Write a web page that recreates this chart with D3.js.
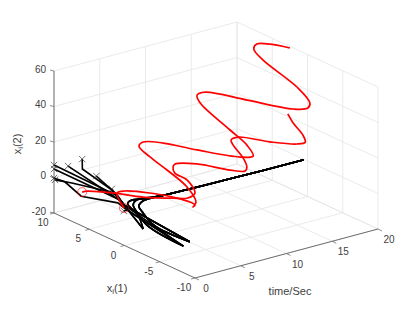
<!DOCTYPE html>
<html><head><meta charset="utf-8">
<script src="https://d3js.org/d3.v7.min.js"></script>
<style>html,body{margin:0;padding:0;background:#fff}svg{display:block}text{font-family:"Liberation Sans",Arial,sans-serif;fill:#404040}</style>
</head><body><div id="c"></div>
<script>
// axis ticks
const timeTicks = [0, 5, 10, 15, 20];
const x1Ticks = [10, 5, 0, -5, -10];
const x2Ticks = [-20, 0, 20, 40, 60];

// red trajectories
const redAT = [0,0.1,0.5,1,1.7,2.3,3,4,4.4,5.6,6.3,7.2,8.4,9.1,9.6,10.2,11.2,12.2,12.8,14.2,15.3,15.9,16.4,17.2,18];
const redAX = [6,5.4,2.3,-1.3,-4.7,-6,-6.1,-3.7,-1.4,0.38,1,-0.9,-4.1,-5.3,-4.9,-3.6,-0.86,0.72,0.5,-2.2,-4.6,-5,-4,-1.6,0.2];
const redAZ = [-0.9,0.6,4.7,8.3,12.9,14.6,16.6,18.1,17.4,15.8,15.4,17.7,18.4,19.1,20,21.7,22.8,21.3,22.5,22.8,24.5,25.4,27,28.2,28.9];

const redBT = [0,0.3,0.6,1,1.8,2.5,2.9,3.3,4.1,4.7,5.3,6,6.5,7.15,7.87,8.85,9.6,10.2,10.8,11.9,12.4,12.9,14.1,15.2,15.8,16.1,16.8,18,18.6,19,19.4,20];
const redBX = [0.07,1.45,0.7,-2.3,-5.1,-6.75,-5.96,-5.86,-3.55,0.07,3.26,5.73,5.8,3.8,-0.07,-4.9,-5.8,-4.1,-0.95,4.7,5.8,5.3,0.9,-4.2,-5.5,-5.4,-2.7,3.7,5.8,5.9,4.5,2.5];
const redBZ = [1,6.5,8.6,12.4,13.6,11.8,8.6,10.6,13.8,15.9,16.6,17.2,18.7,20.9,23.1,26.6,27.8,30.1,31.9,35.2,37,38.9,40.8,43.6,45.7,48,50.9,52.8,54.4,56.5,58.4,59.1];

// black trajectories: starting sections
const headsT = [[0,0.5,0.9],[0,0.5,0.9],[0,0.1,0.2,0.5,0.9],[0,0.1,0.5,0.9],[0,0.5,0.9],[0,0.02,0.4,0.9],[0,0.4,0.9],[0,0.9],[0,0.9]];
const headsX = [[10,1.6,1.2],[10,1.6,1.2],[10,8.6,6.4,1.6,0.8],[9.86,7.6,2,1.2],[8,1.6,1.2],[6,6,2.3,1.2],[4,2.3,1.2],[1.8,1.2],[0.1,0.8]];
const headsZ = [[7,4.3,-0.7],[4.8,2.6,-0.7],[-0.3,0,-4.2,0.4,-2.7],[-1.1,1.2,5.2,-0.7],[10.1,2.6,-0.7],[17.7,12.1,6.5,-0.7],[11.8,6.5,-0.7],[8.6,-0.7],[-0.7,-2.7]];
const headTail = [0,1,2,1,1,2,0,1,2];

// black trajectories: excursion and return sections
const tailsT = [[1.5,2,2.5,2.8,3.2,4.4,12,19.6],[1.5,2,2.5,2.8,3.1,3.6,4.4,12,19.6],[1.5,2,2.5,2.8,3.1,3.6,4.4,12,19.6]];
const tailsX = [[-0.7,0.7,2.8,2.9,2,0,-0.1,0],[-7.3,-1.7,0.6,1.6,1.4,0.8,0,-0.1,0],[-6.4,-0.7,1.5,2.4,2.3,1.3,0,-0.1,0]];
const tailsZ = [[-11.5,-6.8,-5.1,-4.1,-1.8,2.4,1.9,1.2],[-6.6,-8.6,-6.3,-4.5,-1.7,0.4,2.4,1.9,1.2],[-10.7,-10.4,-7.3,-5.5,-2.8,-0.7,2.4,1.9,1.2]];

const W = 417, H = 313;
const svg = d3.select("#c").append("svg").attr("width", W).attr("height", H);

// oblique projection read from the box corners
const originX = 195, originY = 278;
const tPx = d3.scaleLinear([0, 20], [0, 183]);
const tPy = d3.scaleLinear([0, 20], [0, -49]);
const xPx = d3.scaleLinear([-10, 10], [0, -141]);
const xPy = d3.scaleLinear([-10, 10], [0, -65]);
const zPy = d3.scaleLinear([-20, 60], [0, -142]);
const P = (t, x, z) => [originX + tPx(t) + xPx(x), originY + tPy(t) + xPy(x) + zPy(z)];

const gridC = "#e4e4e4", axisC = "#6e6e6e";
const seg = (g, a, b, c, w) => g.append("line").attr("x1", a[0]).attr("y1", a[1]).attr("x2", b[0]).attr("y2", b[1]).attr("stroke", c).attr("stroke-width", w);

// grid
const grid = svg.append("g");
timeTicks.forEach(t => {
  seg(grid, P(t, -10, -20), P(t, 10, -20), gridC, 0.8);
  seg(grid, P(t, 10, -20), P(t, 10, 60), gridC, 0.8);
});
x1Ticks.forEach(x => {
  seg(grid, P(0, x, -20), P(20, x, -20), gridC, 0.8);
  seg(grid, P(20, x, -20), P(20, x, 60), gridC, 0.8);
});
x2Ticks.forEach(z => {
  seg(grid, P(0, 10, z), P(20, 10, z), gridC, 0.8);
  seg(grid, P(20, 10, z), P(20, -10, z), gridC, 0.8);
});

// axes
const axes = svg.append("g");
seg(axes, P(0, 10, -20), P(0, 10, 60), axisC, 1);
seg(axes, P(0, 10, -20), P(0, -10, -20), axisC, 1);
seg(axes, P(0, -10, -20), P(20, -10, -20), axisC, 1);
x2Ticks.forEach(z => {
  const p = P(0, 10, z);
  seg(axes, p, [p[0] - 4, p[1] - 1], axisC, 0.8);
  axes.append("text").attr("x", p[0] - 8).attr("y", p[1] + 1.5).attr("text-anchor", "end").attr("font-size", 10).text(z);
});
x1Ticks.forEach(x => {
  const p = P(0, x, -20);
  seg(axes, p, [p[0] - 4, p[1] + 1], axisC, 0.8);
  axes.append("text").attr("x", p[0] - 11).attr("y", p[1] + 13).attr("text-anchor", "middle").attr("font-size", 10).text(x);
});
timeTicks.forEach(t => {
  const p = P(t, -10, -20);
  seg(axes, p, [p[0] + 4, p[1] + 2], axisC, 0.8);
  axes.append("text").attr("x", p[0] + 11).attr("y", p[1] + 14).attr("text-anchor", "middle").attr("font-size", 10).text(t);
});

// axis titles
const lab1 = axes.append("text").attr("x", 117).attr("y", 292).attr("text-anchor", "middle").attr("font-size", 11);
lab1.append("tspan").text("x");
lab1.append("tspan").attr("font-size", 8).attr("dy", 2).text("i");
lab1.append("tspan").attr("dy", -2).text("(1)");
const lab2 = axes.append("text").attr("transform", "translate(21,144) rotate(-90)").attr("text-anchor", "middle").attr("font-size", 11);
lab2.append("tspan").text("x");
lab2.append("tspan").attr("font-size", 8).attr("dy", 2).text("i");
lab2.append("tspan").attr("dy", -2).text("(2)");
axes.append("text").attr("x", 290).attr("y", 295).attr("text-anchor", "middle").attr("font-size", 11).text("time/Sec");

// traces
const line = d3.line().curve(d3.curveCatmullRom.alpha(0.5));
const pts = (T, X, Z) => T.map((t, i) => P(t, X[i], Z[i]));
const traces = svg.append("g").attr("fill", "none");
const marker = d3.symbol().type(d3.symbolTimes).size(28);

headsT.forEach((h, i) => {
  const k = headTail[i];
  const p = pts(h.concat(tailsT[k]), headsX[i].concat(tailsX[k]), headsZ[i].concat(tailsZ[k]));
  const split = h.length;
  traces.append("path").attr("d", d3.line()(p.slice(0, split + 1))).attr("stroke", "#000").attr("stroke-width", 1.6);
  traces.append("path").attr("d", line(p.slice(split))).attr("stroke", "#000").attr("stroke-width", 1.6);
  traces.append("path").attr("d", marker()).attr("transform", `translate(${p[0]})`).attr("stroke", "#333").attr("stroke-width", 0.7);
});

[[redAT, redAX, redAZ], [redBT, redBX, redBZ]].forEach(([T, X, Z]) => {
  const p = pts(T, X, Z);
  traces.append("path").attr("d", line(p)).attr("stroke", "#f00").attr("stroke-width", 1.7);
  traces.append("circle").attr("cx", p[0][0]).attr("cy", p[0][1]).attr("r", 4.5).attr("stroke", "#f00").attr("stroke-width", 0.6);
});
</script></body></html>
